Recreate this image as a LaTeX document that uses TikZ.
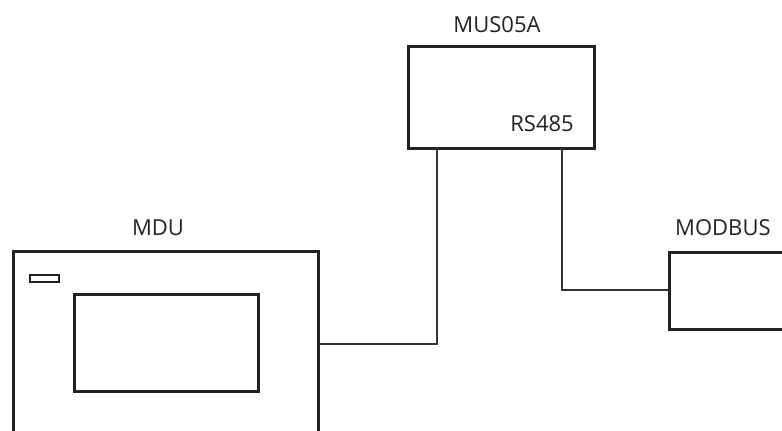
\documentclass[tikz,border=0pt]{standalone}
\usepackage{fontspec}
\setmainfont{Open Sans}
\definecolor{boxc}{HTML}{222222}
\definecolor{wirec}{HTML}{333333}
\begin{document}
\begin{tikzpicture}[x=1pt,y=-1pt,
  box/.style={draw=boxc, line width=2.5pt, rectangle, inner sep=0pt, anchor=north west},
  wire/.style={draw=wirec, line width=1.1pt},
  lbl/.style={font=\fontsize{22}{26}\selectfont, text=boxc, inner sep=0pt}]
\useasboundingbox (0,0) rectangle (782,431);
\clip (0,0) rectangle (782,431);
% boxes
\node[box, minimum width=186pt, minimum height=102pt] (mus) at (407,45) {};
\node[box, minimum width=305pt, minimum height=240pt] (mdu) at (12,250) {};
\node[box, minimum width=160pt, minimum height=77pt] (modbus) at (668,251) {};
\node[box, minimum width=184pt, minimum height=97pt] (screen) at (73,293) {};
\node[box, line width=2pt, minimum width=29pt, minimum height=7pt] (led) at (29,274) {};
% labels
\node[lbl] (lmus) at (497,25) {MUS05A};
\node[lbl] (lmdu) at (158,228) {MDU};
\node[lbl, anchor=west] (lmodbus) at (675,228) {MODBUS};
\node[lbl, anchor=east] (lrs) at (574,124) {RS485};
% connector points
\coordinate (mdur) at (mdu.north east |- 0,344);
\coordinate (mda) at (437,344);
\coordinate (musa) at (437,147);
\coordinate (modl) at (modbus.north west |- 0,290);
\coordinate (mdb) at (562,290);
\coordinate (musb) at (562,147);
\draw[wire] (mdur) -- (mda) -- (musa);
\draw[wire] (modl) -- (mdb) -- (musb);
\end{tikzpicture}
\end{document}
